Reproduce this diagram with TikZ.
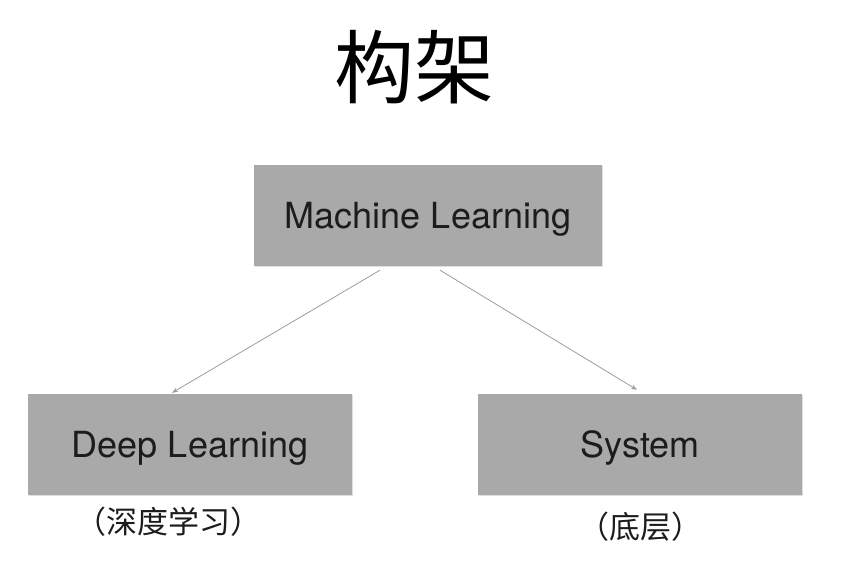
\documentclass[tikz,border=0pt]{standalone}
\usepackage{fontspec}
\setmainfont{TeX Gyre Heros}
\newfontfamily\cjk{Noto Sans CJK SC}
\usepackage{xcolor}
\usetikzlibrary{positioning, arrows.meta, shadows}
\definecolor{boxGray}{HTML}{a9a9a9}
\definecolor{linkGray}{HTML}{9c9c9c}
\definecolor{inkDark}{HTML}{1c1c1c}
\begin{document}
\begin{tikzpicture}[x=1pt,y=1pt,blk/.style={fill=boxGray, minimum height=101pt, inner sep=0pt, text height=26pt, text depth=0pt, font=\fontsize{36}{40}\selectfont, text=inkDark, drop shadow={opacity=0.25, shadow xshift=1pt, shadow yshift=-1pt}},note/.style={font=\cjk\fontsize{31}{36}\selectfont, text=inkDark, inner sep=0pt},link/.style={draw=linkGray, line width=0.8pt, -{Stealth[length=6pt, width=4.5pt]}}]
\useasboundingbox (0,0) rectangle (846,565);
\node[font=\cjk\fontsize{80}{90}\selectfont, text=black] (title) at (414,498) {构架};
\node[blk, minimum width=348pt] (ml) at (428,349.5) {Machine Learning};
\node[blk, minimum width=324pt] (dl) at (190,120.5) {Deep Learning};
\node[blk, minimum width=324pt] (sys) at (640,120.5) {System};
\node[note, below=12pt of dl, xshift=-22pt] (dlnote) {（深度学习）};
\node[note, below=17pt of sys] (sysnote) {（底层）};
\draw[link] ([xshift=-48pt, yshift=-4pt]ml.south) -- ([xshift=-18pt, yshift=1pt]dl.north);
\draw[link] ([xshift=12pt, yshift=-4pt]ml.south) -- ([xshift=-3pt, yshift=4pt]sys.north);
\end{tikzpicture}
\end{document}
